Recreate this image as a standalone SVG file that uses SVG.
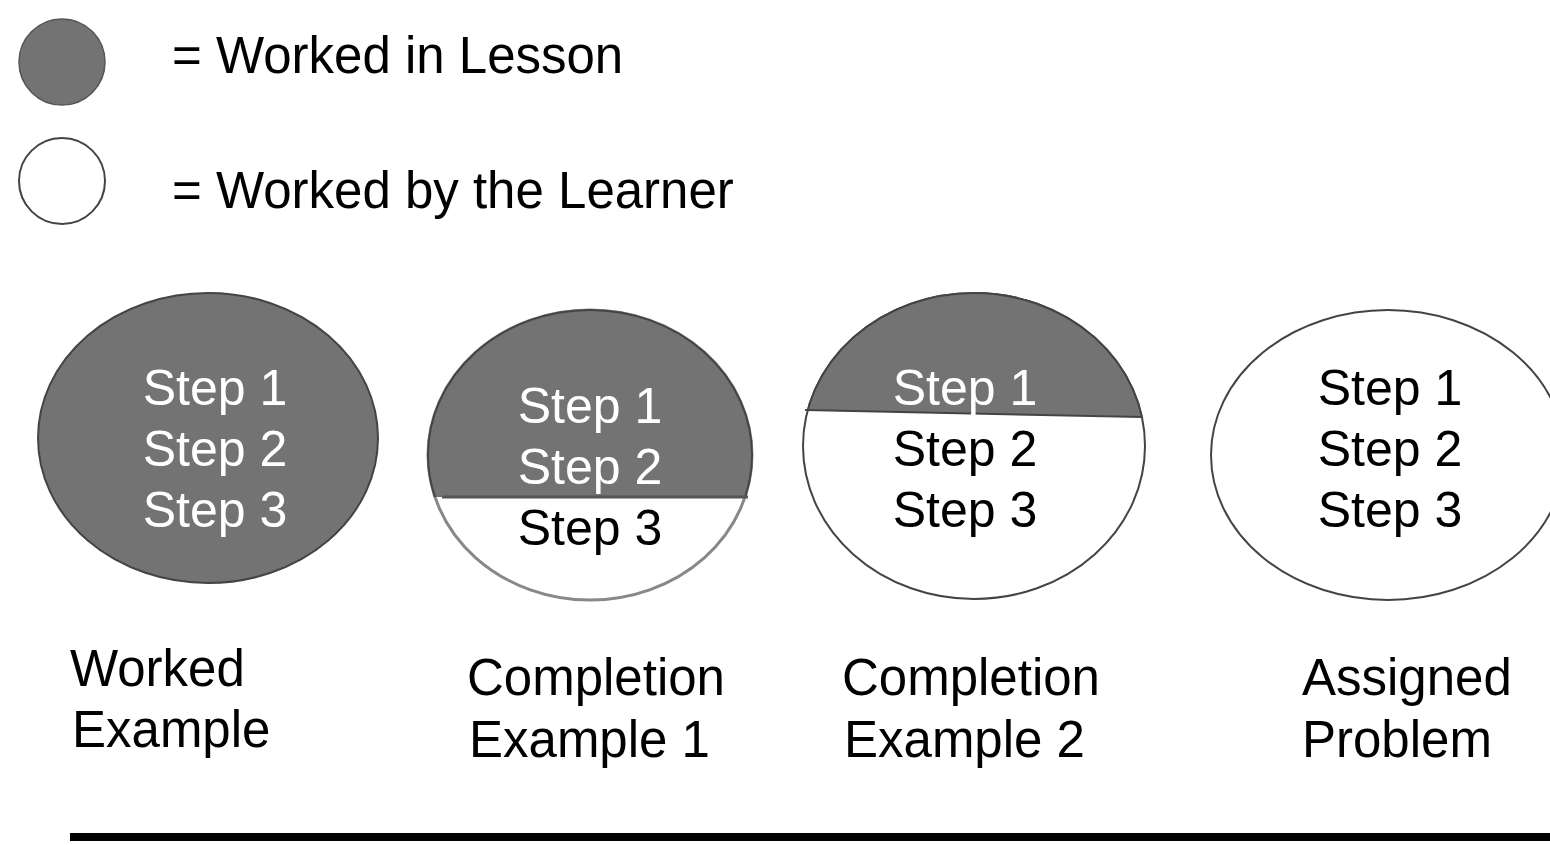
<svg xmlns="http://www.w3.org/2000/svg" width="1550" height="845" viewBox="0 0 1550 845">
<style>
text{font-family:"Liberation Sans",Arial,sans-serif;font-size:50px}
.l{font-size:51px}
.w{fill:#ffffff}
.b{fill:#000000}
.m{text-anchor:middle}
.g{fill:#737373}
.o{fill:#ffffff;stroke:#444;stroke-width:2}
</style>
<defs>
<clipPath id="c1"><rect x="400" y="290" width="380" height="207"/></clipPath>
<clipPath id="c2"><polygon points="780,280 1170,280 1170,417 780,410"/></clipPath>
</defs>
<rect width="1550" height="845" fill="#fff"/>
<g id="legend">
<ellipse cx="62" cy="62" rx="43" ry="43" class="g" stroke="#555" stroke-width="1.5"/>
<text x="172" y="73" class="b l">= Worked in Lesson</text>
<ellipse cx="62" cy="181" rx="43" ry="43" class="o" stroke-width="1.5"/>
<text x="172" y="208" class="b l">= Worked by the Learner</text>
</g>
<g id="worked-example">
<ellipse cx="208" cy="438" rx="170" ry="145" class="g" stroke="#444" stroke-width="2"/>
<text x="215" y="405" class="w m">Step 1</text>
<text x="215" y="466" class="w m">Step 2</text>
<text x="215" y="527" class="w m">Step 3</text>
<text x="70" y="686" class="b l">Worked</text>
<text x="72" y="747" class="b l">Example</text>
</g>
<g id="completion-1">
<ellipse cx="590" cy="455" rx="162" ry="145" fill="#fff" stroke="#888" stroke-width="3"/>
<ellipse cx="590" cy="455" rx="162" ry="145" class="g" stroke="#444" stroke-width="2" clip-path="url(#c1)"/>
<line x1="442" y1="497" x2="748" y2="497" stroke="#555" stroke-width="3"/>
<text x="590" y="423" class="w m">Step 1</text>
<text x="590" y="484" class="w m">Step 2</text>
<text x="590" y="545" class="b m">Step 3</text>
<text x="467" y="695" class="b l">Completion</text>
<text x="469" y="757" class="b l">Example 1</text>
</g>
<g id="completion-2">
<ellipse cx="974" cy="446" rx="171" ry="153" class="o"/>
<ellipse cx="974" cy="446" rx="171" ry="153" class="g" stroke="#444" stroke-width="2" clip-path="url(#c2)"/>
<line x1="805" y1="410" x2="1142" y2="417" stroke="#444" stroke-width="2"/>
<text x="965" y="405" class="w m">Step 1</text>
<text x="965" y="466" class="b m">Step 2</text>
<text x="965" y="527" class="b m">Step 3</text>
<text x="842" y="695" class="b l">Completion</text>
<text x="844" y="757" class="b l">Example 2</text>
</g>
<g id="assigned-problem">
<ellipse cx="1388" cy="455" rx="177" ry="145" class="o"/>
<text x="1390" y="405" class="b m">Step 1</text>
<text x="1390" y="466" class="b m">Step 2</text>
<text x="1390" y="527" class="b m">Step 3</text>
<text x="1302" y="695" class="b l">Assigned</text>
<text x="1302" y="757" class="b l">Problem</text>
</g>
<g id="connectors">
<line x1="70" y1="837" x2="1550" y2="837" stroke="#000" stroke-width="8"/>
</g>
</svg>
